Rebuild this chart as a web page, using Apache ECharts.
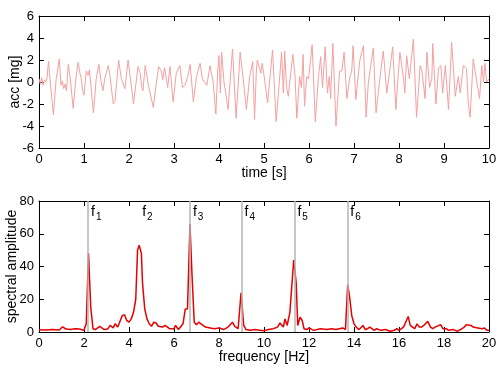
<!DOCTYPE html>
<html>
<head>
<meta charset="utf-8">
<script src="https://cdn.jsdelivr.net/npm/echarts@6/dist/echarts.min.js"></script>
<style>html,body{margin:0;padding:0;background:#fff}#c{width:500px;height:373px}</style>
</head>
<body>
<div id="c"></div>
<script>
// ---- time signal: time [s] and acceleration [mg]
var timeS = [0.00,0.03,0.06,0.09,0.12,0.15,0.18,0.21,0.25,0.32,0.38,0.45,0.49,0.52,0.55,0.58,0.61,0.65,0.69,0.76,0.82,0.87,0.91,0.94,0.97,1.00,1.05,1.09,1.12,1.21,1.27,1.33,1.37,1.42,1.46,1.50,1.54,1.58,1.65,1.69,1.77,1.83,1.87,1.91,1.98,2.05,2.10,2.20,2.25,2.28,2.31,2.36,2.40,2.44,2.54,2.61,2.66,2.72,2.75,2.79,2.86,2.91,2.98,3.05,3.13,3.19,3.24,3.30,3.36,3.43,3.50,3.58,3.63,3.68,3.73,3.80,3.87,3.93,3.97,4.00,4.03,4.06,4.11,4.15,4.20,4.30,4.38,4.47,4.53,4.61,4.68,4.75,4.79,4.83,4.85,4.93,4.96,5.00,5.04,5.08,5.19,5.27,5.35,5.39,5.43,5.46,5.50,5.54,5.64,5.69,5.73,5.79,5.83,5.87,5.90,5.95,5.99,6.07,6.14,6.21,6.26,6.30,6.36,6.41,6.45,6.48,6.53,6.60,6.68,6.73,6.78,6.84,6.91,6.95,6.98,7.04,7.13,7.21,7.27,7.32,7.43,7.49,7.58,7.65,7.73,7.77,7.86,7.93,7.98,8.02,8.10,8.13,8.17,8.23,8.32,8.39,8.47,8.51,8.58,8.62,8.68,8.73,8.75,8.82,8.88,8.93,8.97,9.03,9.10,9.17,9.25,9.32,9.36,9.43,9.50,9.54,9.58,9.65,9.73,9.79,9.84,9.88,9.91,9.95,10.00];
var accMg = [0.3,-0.2,0.4,-0.3,0.2,0.0,0.4,1.9,0.0,-3.0,0.2,2.1,-0.3,0.1,-0.6,-0.2,-0.8,1.6,0.5,-2.4,0.3,1.8,0.8,0.3,-0.8,-1.2,1.0,0.6,1.1,-2.8,0.2,1.6,0.3,-0.8,0.3,0.9,1.5,0.5,-2.0,-1.7,2.0,0.3,0.2,-0.6,2.0,-0.3,-2.0,1.4,0.8,-0.4,-0.8,1.5,0.5,-0.5,-2.3,0.0,1.4,1.0,0.2,1.3,-0.5,1.4,-1.8,0.8,1.5,-0.5,-0.3,0.4,1.6,-1.8,0.5,1.7,0.3,0.0,-0.3,1.5,0.0,-2.9,1.0,2.4,-1.0,2.7,0.0,-1.0,-2.5,3.0,-3.3,2.7,0.5,-2.5,0.5,1.85,-3.4,1.0,2.0,0.8,1.7,0.6,0.5,-1.9,2.9,-3.6,0.5,2.7,-1.0,2.8,-0.5,-1.3,2.5,0.5,-3.3,0.5,-0.5,2.5,-2.2,0.5,0.3,3.4,-3.6,0.5,2.3,-0.5,3.2,-1.0,0.5,-1.5,3.5,-4.0,1.0,1.0,2.7,-1.5,0.5,1.0,3.3,-1.6,2.0,3.3,-3.2,0.0,3.1,-2.8,0.5,2.8,-1.0,0.3,3.2,-2.5,0.5,2.7,0.3,-1.0,2.4,0.3,3.9,-3.2,1.5,1.0,-1.5,2.7,-0.5,0.3,3.5,-2.0,1.3,1.5,-1.0,1.5,-2.5,3.6,-1.3,0.5,-1.0,1.5,1.2,-2.0,-3.2,2.1,0.0,-1.5,1.5,0.0,1.7,0.0,0.3];

// ---- spectrum: frequency [Hz] and spectral amplitude
var freqHz = [0,0.3,0.6,0.9,1.05,1.2,1.4,1.6,1.8,2.0,2.1,2.2,2.3,2.4,2.5,2.7,2.9,3.05,3.16,3.3,3.38,3.5,3.7,3.8,3.9,4.0,4.1,4.2,4.3,4.38,4.45,4.55,4.6,4.7,4.8,4.9,5.0,5.1,5.2,5.3,5.5,5.6,5.8,6.0,6.07,6.2,6.27,6.4,6.5,6.6,6.71,6.8,6.9,7.0,7.1,7.2,7.4,7.6,7.8,8.0,8.2,8.4,8.6,8.7,8.85,8.98,9.1,9.2,9.4,9.6,9.8,10.0,10.2,10.4,10.6,10.71,10.86,10.93,11.03,11.15,11.32,11.43,11.5,11.6,11.7,11.78,11.9,12.0,12.2,12.5,12.8,13.0,13.2,13.5,13.62,13.72,13.8,13.9,14.0,14.1,14.2,14.3,14.4,14.5,14.6,14.7,14.9,15.0,15.2,15.4,15.6,15.8,15.9,16.0,16.2,16.41,16.5,16.6,16.7,16.8,16.9,17.0,17.1,17.28,17.4,17.5,17.6,17.85,17.95,18.1,18.2,18.4,18.5,18.6,18.8,18.9,19.0,19.2,19.3,19.5,19.7,19.8,19.9,20.0];
var amplitude = [1.4,1.2,1.5,1.2,3.2,1.8,1.5,2.0,1.8,1.0,5,48,15,2,1.5,3.5,1.5,1.8,4,2.5,5,3,10,10.5,7,6,8,12,20,50,53,48,30,14,8,5,3.5,6,5.5,3.5,3,4,2,2,4,1.5,0.5,5,14,14,66,35,6,4.5,6,5,3,2.5,2,2.5,1.5,3,6,3.5,2,24,4,1.5,1,1.5,1,0.8,1.5,2,3,5.5,3,8,4,12,44,30,4,9,7,2,1.5,2.5,1,2,1.5,2,1.5,2.5,1.5,29,22,10,5,3,1.5,2.5,4,1.5,2,3,1,2,1,1.5,0.5,1,2,1,3,9.5,4,3,2,5,3,3,4,6.5,3,2,3,4.5,2,2,1,1.5,1,0.5,2,3,4.5,4,3,2.5,2,2.5,1,1];

// ---- natural frequency markers
var modeNames = ['1','2','3','4','5','6'];
var labelFreqs = [2.18, 4.45, 6.71, 9.0, 11.35, 13.7];
var lineFreqs = [2.18, 6.71, 9.0, 11.35, 13.7];
var labelLevel = 73;

// ---- axis ticks
var timeTicks = {min: 0, max: 10, interval: 1};
var accTicks = {min: -6, max: 6, interval: 2};
var freqTicks = {min: 0, max: 20, interval: 2};
var ampTicks = {min: 0, max: 80, interval: 20};

var FONT = 'Liberation Sans, Arial, sans-serif';
function mainAxis(t, extra) {
  var a = {
    type: 'value', min: t.min, max: t.max, interval: t.interval,
    axisLine: {show: true, onZero: false, lineStyle: {color: '#000', width: 1}},
    axisTick: {show: true, inside: true, length: 5, lineStyle: {color: '#000'}},
    axisLabel: {color: '#000', fontSize: 13, fontFamily: FONT, margin: 5},
    splitLine: {show: false},
    nameMoveOverlap: false,
    nameTextStyle: {color: '#000', fontSize: 14, fontFamily: FONT}
  };
  for (var k in extra) a[k] = extra[k];
  return a;
}
function mirrorAxis(t, extra) {
  var a = {
    type: 'value', min: t.min, max: t.max, interval: t.interval,
    axisLine: {show: true, onZero: false, lineStyle: {color: '#000', width: 1}},
    axisTick: {show: true, inside: true, length: 5, lineStyle: {color: '#000'}},
    axisLabel: {show: false},
    splitLine: {show: false}
  };
  for (var k in extra) a[k] = extra[k];
  return a;
}

var sigData = timeS.map(function (t, i) { return [t, accMg[i]]; });
var specData = freqHz.map(function (f, i) { return [f, amplitude[i]]; });
var labelData = labelFreqs.map(function (f, i) { return {value: [f, labelLevel], name: modeNames[i]}; });

var chart = echarts.init(document.getElementById('c'), null, {renderer: 'canvas'});
chart.setOption({
  animation: false,
  backgroundColor: '#fff',
  grid: [
    {left: 39, top: 16, width: 450, height: 132, containLabel: false, outerBoundsMode: 'none'},
    {left: 39, top: 201, width: 450, height: 131, containLabel: false, outerBoundsMode: 'none'}
  ],
  xAxis: [
    mainAxis(timeTicks, {gridIndex: 0, position: 'bottom', name: 'time [s]', nameLocation: 'middle', nameGap: 18}),
    mirrorAxis(timeTicks, {gridIndex: 0, position: 'top'}),
    mainAxis(freqTicks, {gridIndex: 1, position: 'bottom', name: 'frequency [Hz]', nameLocation: 'middle', nameGap: 18}),
    mirrorAxis(freqTicks, {gridIndex: 1, position: 'top'})
  ],
  yAxis: [
    mainAxis(accTicks, {gridIndex: 0, position: 'left', name: 'acc [mg]', nameLocation: 'middle', nameGap: 17}),
    mirrorAxis(accTicks, {gridIndex: 0, position: 'right'}),
    mainAxis(ampTicks, {gridIndex: 1, position: 'left', name: 'spectral amplitude', nameLocation: 'middle', nameGap: 20}),
    mirrorAxis(ampTicks, {gridIndex: 1, position: 'right'})
  ],
  series: [
    {
      type: 'line', xAxisIndex: 0, yAxisIndex: 0, data: sigData,
      showSymbol: false, symbol: 'none',
      lineStyle: {color: '#f5a0a0', width: 1}, z: 3
    },
    {
      type: 'scatter', xAxisIndex: 2, yAxisIndex: 2, data: labelData,
      symbolSize: 0, z: 1, silent: true,
      itemStyle: {opacity: 1},
      label: {
        show: true, position: 'right', distance: 3, color: '#000', opacity: 1,
        formatter: function (p) { return '{f|f}{s|' + p.name + '}'; },
        rich: {
          f: {fontSize: 14, fontFamily: FONT, color: '#000'},
          s: {fontSize: 10, fontFamily: FONT, color: '#000', padding: [10, 0, 0, 1]}
        }
      },
      markLine: {
        silent: true, symbol: 'none', animation: false,
        label: {show: false},
        lineStyle: {color: '#b4b4b4', width: 1.5, type: 'solid', opacity: 1},
        data: lineFreqs.map(function (f) { return {xAxis: f}; })
      }
    },
    {
      type: 'line', xAxisIndex: 2, yAxisIndex: 2, data: specData,
      showSymbol: false, symbol: 'none',
      lineStyle: {color: '#e60000', width: 1.5}, z: 3
    }
  ]
});
</script>
</body>
</html>
